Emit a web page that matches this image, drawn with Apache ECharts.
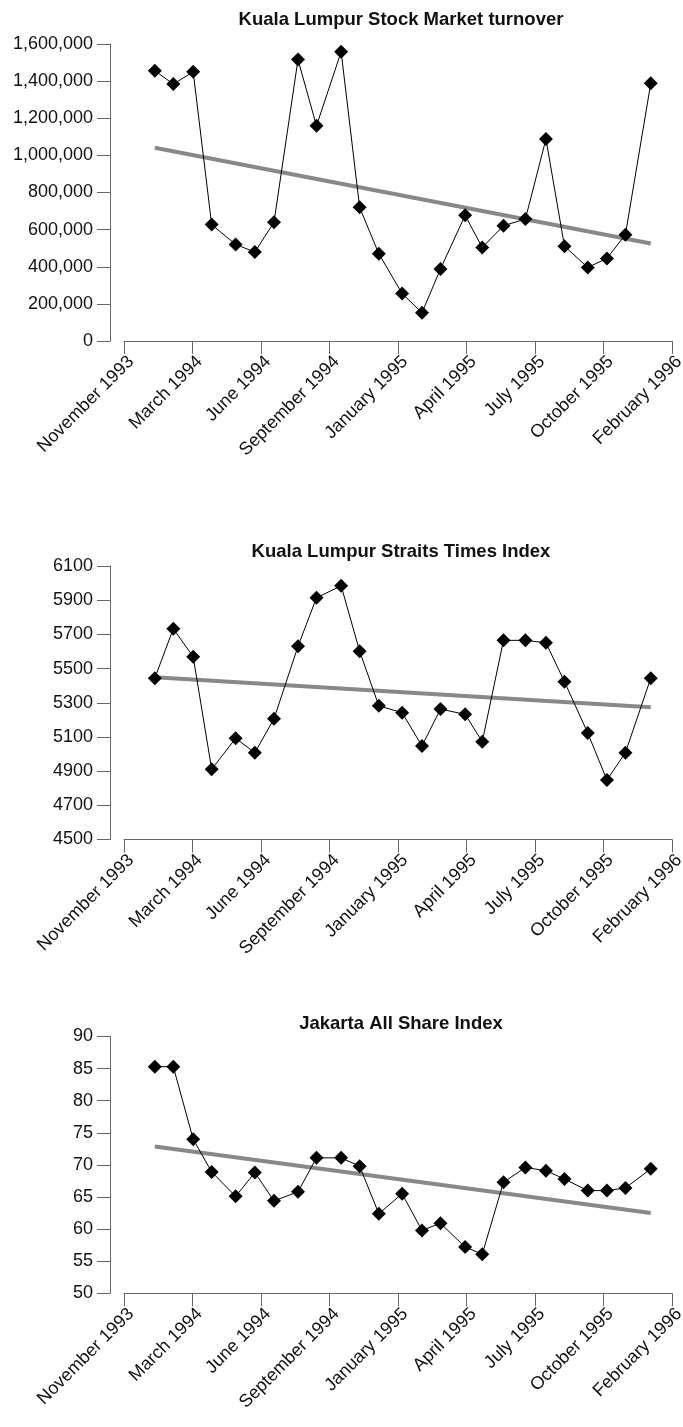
<!DOCTYPE html>
<html>
<head>
<meta charset="utf-8">
<title>Kuala Lumpur and Jakarta markets</title>
<script src="https://cdn.jsdelivr.net/npm/echarts@6/dist/echarts.min.js"></script>
<style>
    html, body { margin: 0; padding: 0; background: #fff; }
    #chart { width: 683px; height: 1427px; }
</style>
</head>
<body>
<div id="chart"></div>
<script>

// Data
// ------------------------------

// Observation dates (roughly monthly)
var dates = [
    '1994-01-11', '1994-02-07', '1994-03-08', '1994-04-04', '1994-05-09',
    '1994-06-06', '1994-07-04', '1994-08-08', '1994-09-04', '1994-10-10',
    '1994-11-06', '1994-12-04', '1995-01-07', '1995-02-05', '1995-03-04',
    '1995-04-09', '1995-05-04', '1995-06-04', '1995-07-06', '1995-08-05',
    '1995-09-01', '1995-10-05', '1995-11-02', '1995-11-29', '1996-01-05'
];

// Kuala Lumpur Stock Market turnover
var turnover = [
    1456000, 1384000, 1450000, 627000, 520000,
    479000, 640000, 1516000, 1159000, 1558000,
    720000, 470000, 256000, 152000, 388000,
    677000, 504000, 621000, 657000, 1088000,
    511000, 396000, 445000, 573000, 1388000
];

// Kuala Lumpur Straits Times Index
var straitsIndex = [
    5444, 5733, 5569, 4911, 5092,
    5008, 5206, 5630, 5914, 5984,
    5602, 5282, 5242, 5047, 5263,
    5232, 5072, 5665, 5665, 5651,
    5423, 5123, 4848, 5008, 5444
];

// Jakarta All Share Index
var jakartaIndex = [
    85.3, 85.3, 74.0, 68.9, 65.1,
    68.8, 64.4, 65.8, 71.1, 71.1,
    69.8, 62.4, 65.5, 59.8, 60.9,
    57.2, 56.1, 67.3, 69.6, 69.1,
    67.8, 66.0, 66.0, 66.4, 69.4
];

// Axis start date, x is counted in days from here
var axisStart = '1993-11-27';
var axisSpanDays = 800;
var xTickLabels = [
    'November 1993', 'March 1994', 'June 1994', 'September 1994', 'January 1995',
    'April 1995', 'July 1995', 'October 1995', 'February 1996'
];

// Y ticks
var turnoverTicks = [0, 1600000, 200000];
var straitsTicks = [4500, 4700, 4900, 5100, 5300, 5500, 5700, 5900, 6100];
var jakartaTicks = [50, 90, 5];

var titles = [
    'Kuala Lumpur Stock Market turnover',
    'Kuala Lumpur Straits Times Index',
    'Jakarta All Share Index'
];


// Setup
// ------------------------------

var fontFamily = '"Liberation Sans", Arial, Helvetica, sans-serif';
var axisColor = '#666';
var textColor = '#111';

var dayOf = function(s) {
    var t0 = new Date(axisStart + 'T00:00:00Z').getTime();
    return (new Date(s + 'T00:00:00Z').getTime() - t0) / 86400000;
};

var xDays = dates.map(dayOf);

// least squares trend, returns the two end points
var trendLine = function(values) {
    var n = values.length, sx = 0, sy = 0, sxx = 0, sxy = 0;
    for (var i = 0; i < n; i++) {
        sx += xDays[i];
        sy += values[i];
        sxx += xDays[i] * xDays[i];
        sxy += xDays[i] * values[i];
    }
    var b = (n * sxy - sx * sy) / (n * sxx - sx * sx);
    var a = (sy - b * sx) / n;
    var x0 = xDays[0], x1 = xDays[n - 1];
    return [[x0, a + b * x0], [x1, a + b * x1]];
};

var pairs = function(values) {
    return values.map(function(v, i) { return [xDays[i], v]; });
};

// Panels: grid top and height in px
var panels = [
    { top: 44, height: 297, titleY: 20, values: turnover },
    { top: 566, height: 273.5, titleY: 552, values: straitsIndex },
    { top: 1036.5, height: 256.8, titleY: 1024, values: jakartaIndex }
];

var grids = [], xAxes = [], yAxes = [], series = [], titleList = [];

panels.forEach(function(p, k) {
    grids.push({
        left: 124,
        right: 11,
        top: p.top,
        height: p.height,
        containLabel: false,
        outerBoundsMode: 'none'
    });

    titleList.push({
        text: titles[k],
        left: 401,
        top: p.titleY,
        padding: 0,
        textAlign: 'center',
        textVerticalAlign: 'middle',
        textStyle: { fontFamily: fontFamily, fontSize: 18.5, fontWeight: 'bold', color: textColor }
    });

    xAxes.push({
        type: 'value',
        gridIndex: k,
        min: 0,
        max: axisSpanDays,
        interval: axisSpanDays / (xTickLabels.length - 1),
        axisLine: { show: true, onZero: false, lineStyle: { color: axisColor, width: 1 } },
        axisTick: { show: true, length: 13, lineStyle: { color: axisColor, width: 1 } },
        splitLine: { show: false },
        axisLabel: {
            rotate: 45,
            margin: 25,
            padding: [10, -10, 0, 0],
            fontFamily: fontFamily,
            fontSize: 18,
            color: textColor,
            formatter: function(v) {
                return xTickLabels[Math.round(v / (axisSpanDays / (xTickLabels.length - 1)))] || '';
            }
        }
    });

    var yAxis = {
        type: 'value',
        gridIndex: k,
        position: 'left',
        offset: 14,
        axisLine: { show: true, onZero: false, lineStyle: { color: axisColor, width: 1 } },
        axisTick: { show: true, length: 13, lineStyle: { color: axisColor, width: 1 } },
        splitLine: { show: false },
        axisLabel: {
            margin: 17,
            fontFamily: fontFamily,
            fontSize: 18,
            color: textColor,
            formatter: function(v) { return String(v); }
        }
    };
    if (k === 0) {
        yAxis.min = turnoverTicks[0];
        yAxis.max = turnoverTicks[1];
        yAxis.interval = turnoverTicks[2];
        yAxis.axisLabel.formatter = function(v) { return v.toLocaleString('en-US'); };
    } else if (k === 1) {
        yAxis.min = straitsTicks[0];
        yAxis.max = straitsTicks[straitsTicks.length - 1];
        yAxis.axisTick.customValues = straitsTicks;
        yAxis.axisLabel.customValues = straitsTicks;
    } else {
        yAxis.min = jakartaTicks[0];
        yAxis.max = jakartaTicks[1];
        yAxis.interval = jakartaTicks[2];
    }
    yAxes.push(yAxis);

    // trend line under the data
    series.push({
        type: 'line',
        xAxisIndex: k,
        yAxisIndex: k,
        data: trendLine(p.values),
        symbol: 'none',
        lineStyle: { color: '#888', width: 4 },
        z: 2,
        silent: true
    });

    series.push({
        type: 'line',
        xAxisIndex: k,
        yAxisIndex: k,
        data: pairs(p.values),
        symbol: 'diamond',
        symbolSize: 14,
        showSymbol: true,
        itemStyle: { color: '#000' },
        lineStyle: { color: '#000', width: 1 },
        z: 3
    });
});

var chart = echarts.init(document.getElementById('chart'), null, { renderer: 'canvas' });
chart.setOption({
    animation: false,
    backgroundColor: '#fff',
    title: titleList,
    grid: grids,
    xAxis: xAxes,
    yAxis: yAxes,
    series: series
});

</script>
</body>
</html>
